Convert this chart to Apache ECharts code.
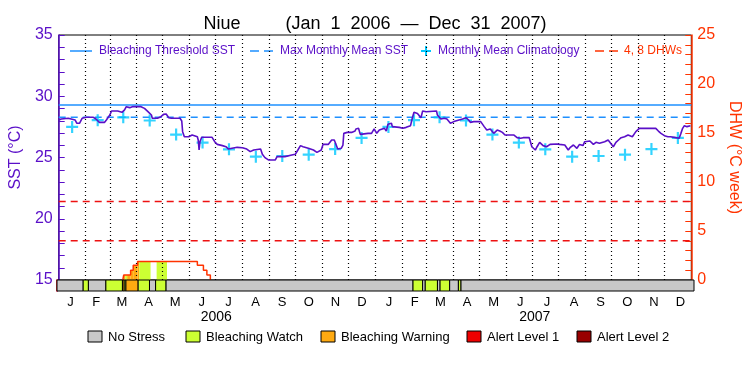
<!DOCTYPE html>
<html>
<head>
<meta charset="utf-8">
<script src="https://cdn.jsdelivr.net/npm/echarts@6/dist/echarts.min.js"></script>
<style>
html,body{margin:0;padding:0;background:#fff}
#chart{width:750px;height:375px}
</style>
</head>
<body>
<div id="chart"></div>
<script>
// days counted from Jan 1 2006
var sstDays = [0,1,3,11,19,21,24,27,32,40,43,47,53,55,59,61,68,73,76,78,82,85,95,99,103,107,108,114,118,121,124,127,130,140,142,143,145,150,154,160,161,162,163,165,177,180,183,189,193,196,200,202,206,212,217,221,225,227,233,235,238,242,250,252,261,263,269,273,276,279,282,288,294,298,300,303,305,311,315,318,322,326,328,329,333,338,342,343,346,348,357,361,364,367,370,376,378,380,384,385,393,397,401,403,406,408,410,414,418,420,424,426,436,437,441,445,448,452,456,462,466,470,473,475,479,487,491,494,498,502,506,509,512,515,525,529,533,536,543,546,550,552,555,559,563,567,575,578,584,588,590,594,598,601,605,607,613,617,620,624,630,634,636,640,643,646,649,653,657,662,666,670,672,674,689,692,695,699,703,706,708,712,716,718,720,722,725,729];
var sstValues = [28.06,27.93,28.14,28.2,28.06,27.79,27.79,28.2,28.28,28.28,28.14,27.87,27.87,28.06,28.47,28.8,28.8,28.69,28.88,29.15,29.07,29.15,29.15,29.01,28.74,28.47,28.2,28.2,28.33,28.52,28.55,28.25,28.2,28.2,27.98,27.11,26.7,26.7,26.84,26.7,26.43,25.61,26.29,26.65,26.65,26.29,26.07,25.97,25.88,25.69,25.75,25.88,25.83,25.8,25.69,25.48,25.61,25.69,25.69,25.26,24.99,24.8,24.8,25.07,25.07,25.15,25.2,25.26,25.61,25.97,25.88,25.75,25.61,25.42,25.26,25.61,26.07,26.07,26.43,26.43,25.69,25.75,26.02,26.97,27.05,27.05,27.16,27.33,27.38,26.89,26.97,26.97,27.33,26.97,27.24,27.38,27.16,27.71,27.79,27.52,27.46,27.38,27.46,27.6,27.6,28.2,28.69,28.6,28.25,28.8,28.74,28.8,28.8,28.47,28.14,28.2,28.14,27.79,27.93,28.06,28.14,28.25,28.06,27.87,27.93,27.93,27.52,27.24,27.33,26.97,27.24,27.16,27.05,26.84,26.84,26.62,26.57,26.62,26.62,25.88,25.61,25.88,26.24,25.97,25.88,26.07,26.1,26.07,26.02,25.61,25.8,26.02,25.75,26.07,25.97,26.29,26.35,26.07,26.24,26.16,26.29,26.43,26.29,25.88,26.24,26.43,26.62,26.7,26.84,26.7,27.11,27.38,27.52,27.38,27.38,27.16,26.97,26.78,26.7,26.7,26.84,26.62,26.57,26.97,27.38,27.6,27.52,27.6];

var climValues = [27.5,28.05,28.28,28.02,26.87,26.22,25.67,25.07,25.12,25.23,25.69,26.6];
var thresholdSST = 29.28;
var mmmSST = 28.28;
var dhwLevels = [4, 8];

var dhwDays = [74,75,83,86,91,160,167,171,175];
var dhwValues = [0,0.5,1.0,1.5,1.9,1.5,1.0,0.5,0];

// stress level: 0 none, 1 watch, 2 warning, 3 alert 1, 4 alert 2
var stressStart = [0,30,36,56,75,77,79,93,106,113,125,408,419,422,436,439,450,460,463];
var stressEnd   = [30,36,56,75,77,79,93,106,113,125,408,419,422,436,439,450,460,463,730];
var stressLevel = [0,1,0,1,2,1,2,1,0,1,0,1,0,1,0,1,0,1,0];

var stressNames = ['No Stress','Bleaching Watch','Bleaching Warning','Alert Level 1','Alert Level 2'];
var stressColors = ['#c8c8c8','#ccff33','#ffaa11','#ee0000','#990000'];
var monthLetters = ['J','F','M','A','M','J','J','A','S','O','N','D'];
var years = ['2006','2007'];

var purple = '#5a0fc8', red = '#ff3300';
var t0 = Date.UTC(2006,0,1);
function dayOf(y,m,d){ return (Date.UTC(y,m,d) - t0) / 864e5; }

var monthStarts = [], midMonths = [];
for (var y = 2006; y <= 2007; y++) {
  for (var m = 0; m < 12; m++) {
    var a = dayOf(y,m,1), b = dayOf(y,m+1,1);
    monthStarts.push(a);
    midMonths.push((a+b)/2);
  }
}
var climData = midMonths.map(function(d,i){ return [d, climValues[i % 12]]; });
var sstData = sstDays.map(function(d,i){ return [d, sstValues[i]]; });
var dhwData = dhwDays.map(function(d,i){ return [d, dhwValues[i]]; });
var stressData = stressStart.map(function(s,i){ return [s, stressEnd[i], stressLevel[i]]; });

// split the DHW steps by stress segment so the area takes the stress colour
var dhwFill = [];
for (var i = 0; i < dhwDays.length - 1; i++) {
  if (dhwValues[i] <= 0) continue;
  for (var k = 0; k < stressStart.length; k++) {
    var s = Math.max(dhwDays[i], stressStart[k]);
    var e = Math.min(dhwDays[i+1], stressEnd[k]);
    if (e > s && stressLevel[k] > 0) dhwFill.push([s, e, dhwValues[i], stressLevel[k]]);
  }
}

var chart = echarts.init(document.getElementById('chart'));

var font = 'Liberation Sans';
var graphics = [
  {type:'line', shape:{x1:70,y1:51,x2:92,y2:51}, style:{stroke:'#1e90ff',lineWidth:1.5}},
  {type:'text', x:99, y:51, style:{text:'Bleaching Threshold SST', fill:purple, font:'12px '+font, verticalAlign:'middle'}},
  {type:'line', shape:{x1:250,y1:51,x2:273,y2:51}, style:{stroke:'#1e90ff',lineWidth:1.5,lineDash:[9,5]}},
  {type:'text', x:280, y:51, style:{text:'Max Monthly Mean SST', fill:purple, font:'12px '+font, verticalAlign:'middle'}},
  {type:'line', shape:{x1:421,y1:51,x2:431,y2:51}, style:{stroke:'#00c8ff',lineWidth:2}},
  {type:'line', shape:{x1:426,y1:46,x2:426,y2:56}, style:{stroke:'#00c8ff',lineWidth:2}},
  {type:'text', x:438, y:51, style:{text:'Monthly Mean Climatology', fill:purple, font:'12px '+font, verticalAlign:'middle'}},
  {type:'line', shape:{x1:595,y1:51,x2:618,y2:51}, style:{stroke:red,lineWidth:1.5,lineDash:[9,5]}},
  {type:'text', x:624, y:51, style:{text:'4, 8 DHWs', fill:red, font:'12px '+font, verticalAlign:'middle'}}
];
var boxX = [88,186,321,467,577];
stressNames.forEach(function(n,i){
  graphics.push({type:'rect', shape:{x:boxX[i],y:331,width:14,height:11}, style:{fill:stressColors[i],stroke:'#000',lineWidth:1}});
  graphics.push({type:'text', x:boxX[i]+20, y:337, style:{text:n, fill:'#000', font:'13px '+font, verticalAlign:'middle'}});
});

function flatLine(name, yIdx, v, color, dash) {
  return {
    name: name, type: 'line', xAxisIndex: 0, yAxisIndex: yIdx,
    data: [[0, v], [730, v]], showSymbol: false, silent: true,
    lineStyle: {color: color, width: 1.5, type: dash || 'solid'}, z: 3
  };
}

var option = {
  animation: false,
  textStyle: {fontFamily: font},
  title: {
    text: 'Niue         (Jan  1  2006  \u2014  Dec  31  2007)',
    left: 'center', top: 10,
    textStyle: {fontSize: 18, fontWeight: 'normal', color: '#000'}
  },
  graphic: graphics,
  grid: [
    {left: 57, right: 56, top: 35, height: 245, show: true, borderColor: '#000', borderWidth: 1},
    {left: 57, right: 56, top: 280, height: 11}
  ],
  xAxis: [
    {gridIndex: 0, type: 'value', min: 0, max: 730, axisLine: {show: false}, axisTick: {show: false}, axisLabel: {show: false}, splitLine: {show: false}},
    {gridIndex: 1, type: 'value', position: 'bottom', min: 0, max: 730, axisLine: {show: false}, axisTick: {show: false}, splitLine: {show: false},
      axisLabel: {customValues: midMonths, margin: 5, fontSize: 13, color: '#000',
        formatter: function(v){ var i = midMonths.indexOf(v); return i < 0 ? '' : monthLetters[i % 12]; }}},
    {gridIndex: 1, type: 'value', position: 'bottom', min: 0, max: 730, axisLine: {show: false}, axisTick: {show: false}, splitLine: {show: false},
      axisLabel: {customValues: [182.5, 547.5], margin: 19, fontSize: 14, color: '#000',
        formatter: function(v){ return v < 365 ? years[0] : years[1]; }}}
  ],
  yAxis: [
    {gridIndex: 0, type: 'value', position: 'left', min: 15, max: 35, interval: 5,
      name: 'SST (\u00b0C)', nameLocation: 'middle', nameGap: 30, nameRotate: 90,
      nameTextStyle: {color: purple, fontSize: 16},
      axisLine: {show: true, lineStyle: {color: purple, width: 1.5}},
      axisTick: {show: true, inside: true, length: 6, lineStyle: {color: purple}},
      minorTick: {show: true, splitNumber: 5, length: 6, lineStyle: {color: purple}},
      axisLabel: {color: purple, fontSize: 16, margin: 6},
      splitLine: {show: false}},
    {gridIndex: 0, type: 'value', position: 'right', min: 0, max: 25, interval: 5,
      name: 'DHW (\u00b0C week)', nameLocation: 'middle', nameGap: 28, nameRotate: -90,
      nameTextStyle: {color: red, fontSize: 16},
      axisLine: {show: true, lineStyle: {color: red, width: 1.5}},
      axisTick: {show: true, inside: true, length: 6, lineStyle: {color: red}},
      minorTick: {show: true, splitNumber: 5, length: 6, lineStyle: {color: red}},
      axisLabel: {color: red, fontSize: 16, margin: 6},
      splitLine: {show: false}},
    {gridIndex: 1, type: 'value', position: 'left', min: 0, max: 1,
      axisLine: {show: true, lineStyle: {color: purple, width: 1.5}}, axisTick: {show: false}, axisLabel: {show: false}, splitLine: {show: false}},
    {gridIndex: 1, type: 'value', position: 'right', min: 0, max: 1,
      axisLine: {show: true, lineStyle: {color: red, width: 1.5}}, axisTick: {show: false}, axisLabel: {show: false}, splitLine: {show: false}}
  ],
  series: [
    {
      name: 'months', type: 'line', xAxisIndex: 0, yAxisIndex: 0, data: [[0, 15]],
      showSymbol: false, lineStyle: {opacity: 0}, silent: true, z: 1,
      markLine: {silent: true, symbol: 'none', label: {show: false},
        lineStyle: {color: '#000', type: [1, 3], width: 1.2},
        data: monthStarts.slice(1).map(function(d){ return {xAxis: d}; })}
    },
    {
      name: 'DHW fill', type: 'custom', xAxisIndex: 0, yAxisIndex: 1, data: dhwFill, z: 2,
      renderItem: function(params, api){
        var p0 = api.coord([api.value(0), api.value(2)]);
        var p1 = api.coord([api.value(1), 0]);
        return {type: 'rect', shape: {x: p0[0], y: p0[1], width: p1[0]-p0[0], height: p1[1]-p0[1]},
          style: {fill: stressColors[api.value(3)]}};
      }
    },
    flatLine('4 DHW', 1, dhwLevels[0], '#ee1111', [7, 5]),
    flatLine('8 DHW', 1, dhwLevels[1], '#ee1111', [7, 5]),
    flatLine('Bleaching Threshold SST', 0, thresholdSST, '#1e90ff'),
    flatLine('Max Monthly Mean SST', 0, mmmSST, '#1e90ff', [7, 5]),
    {
      name: 'DHW', type: 'line', xAxisIndex: 0, yAxisIndex: 1, data: dhwData, step: 'end',
      showSymbol: false, lineStyle: {color: red, width: 1.5}, z: 4
    },
    {
      name: 'Monthly Mean Climatology', type: 'scatter', xAxisIndex: 0, yAxisIndex: 0, data: climData,
      symbol: 'path://M4.5,0h2v4.5h4.5v2h-4.5v4.5h-2v-4.5h-4.5v-2h4.5z', symbolSize: 12,
      itemStyle: {color: '#00c8ff'}, z: 5
    },
    {
      name: 'SST', type: 'line', xAxisIndex: 0, yAxisIndex: 0, data: sstData,
      showSymbol: false, lineStyle: {color: purple, width: 1.6}, z: 6
    },
    {
      name: 'Stress', type: 'custom', xAxisIndex: 1, yAxisIndex: 2, data: stressData, z: 5,
      renderItem: function(params, api){
        var p0 = api.coord([api.value(0), 1]);
        var p1 = api.coord([api.value(1), 0]);
        return {type: 'rect', shape: {x: p0[0], y: p0[1], width: p1[0]-p0[0], height: p1[1]-p0[1]},
          style: {fill: stressColors[api.value(2)], stroke: '#000', lineWidth: 1}};
      }
    }
  ]
};
chart.setOption(option);
</script>
</body>
</html>
